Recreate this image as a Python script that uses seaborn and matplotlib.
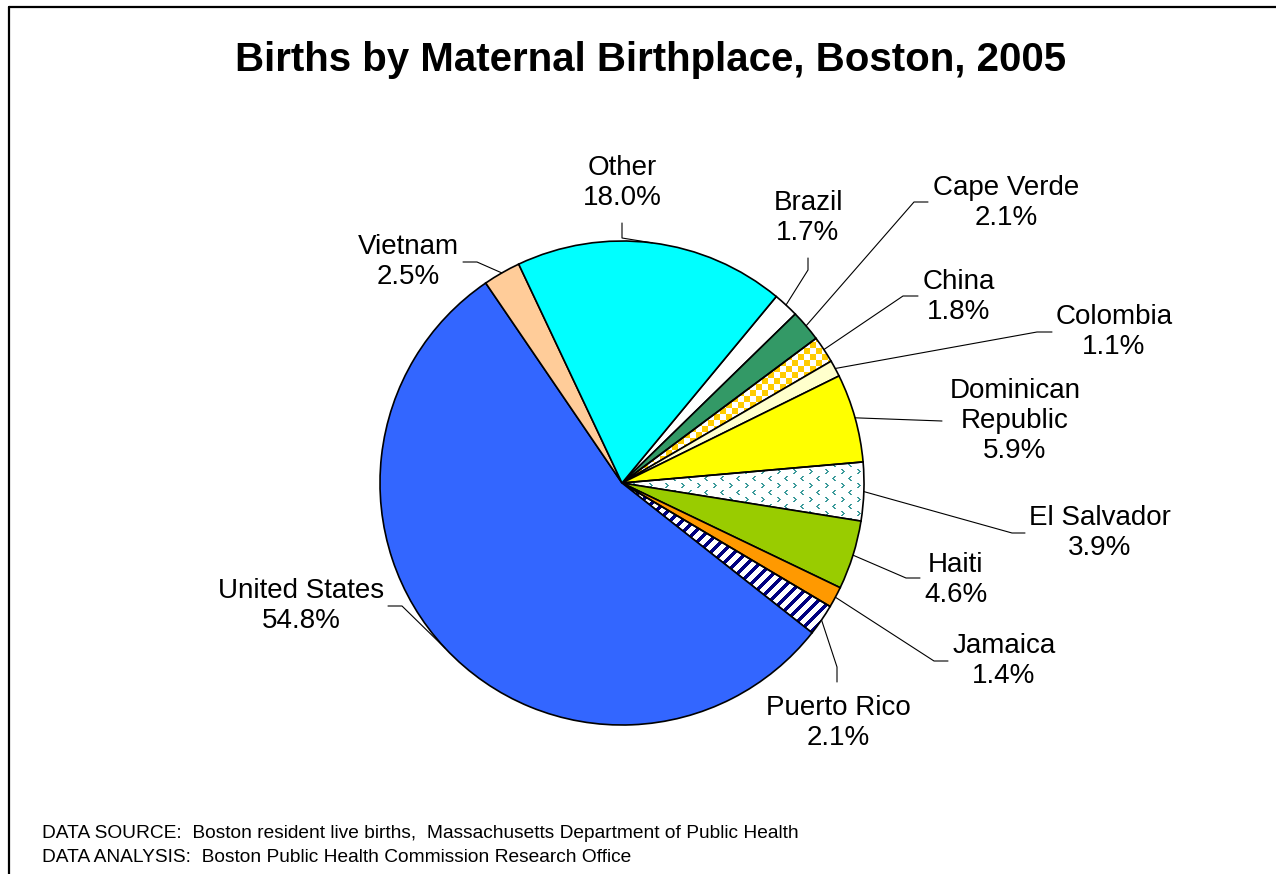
import numpy as np
import matplotlib
matplotlib.use("Agg")
from matplotlib import pyplot as plt
from matplotlib.lines import Line2D
import seaborn as sns

# data (clockwise from Brazil)
countries = ['Brazil', 'Cape Verde', 'China', 'Colombia', 'Dominican\nRepublic',
             'El Salvador', 'Haiti', 'Jamaica', 'Puerto Rico', 'United States',
             'Vietnam', 'Other']
shares = [1.7, 2.1, 1.8, 1.1, 5.9, 3.9, 4.6, 1.4, 2.1, 54.8, 2.5, 18.0]
colors = ['#FFFFFF', '#339966', 'none', '#FFFFCC', '#FFFF00', 'none',
          '#99CC00', '#FF9900', 'none', '#3366FF', '#FFCC99', '#00FFFF']

sns.set_theme(style="white")
plt.rcParams['font.family'] = ['Liberation Sans', 'DejaVu Sans']
plt.rcParams['text.color'] = 'black'

W, H = 1276, 874
CX, CY, R = 622, 483, 242   # pie centre and radius in pixels


def px(x, y):
    # pixel position -> data units (1 unit = pie radius)
    return (x - CX) / R, (CY - y) / R


fig = plt.figure(figsize=(W / 100, H / 100), dpi=100)
ax = fig.add_axes([0, 0, 1, 1])
ext = (-CX / R, (W - CX) / R, -(H - CY) / R, CY / R)

wedges, _ = ax.pie(shares, colors=colors, startangle=50.4, counterclock=False,
                   radius=1, center=(0, 0),
                   wedgeprops=dict(edgecolor='black', linewidth=1.2, zorder=3))

#### fill patterns for three slices ####
yy, xx = np.mgrid[0:H, 0:W]


def pattern_img(mask, fg, bg=(255, 255, 255)):
    img = np.empty((H, W, 3), dtype=np.uint8)
    img[:] = bg
    img[mask] = fg
    return img


checker = ((xx // 6 + yy // 6) % 2 == 0)
stripes = ((xx + yy) % 12) < 5
# small "<" and ">" marks, alternating rows
tile = np.zeros((14, 16), dtype=bool)
lt = [(0, 2), (1, 1), (2, 0), (3, 1), (4, 2), (0, 3), (1, 2), (2, 1), (3, 2), (4, 3)]
for r, c in lt:
    tile[r, c] = True
    tile[r + 7, 12 - c] = True
chevrons = tile[yy % 14, xx % 16]

patterns = {2: pattern_img(checker, (255, 204, 0)),
            5: pattern_img(chevrons, (60, 155, 155)),
            8: pattern_img(stripes, (0, 0, 128))}
for i, img in patterns.items():
    im = ax.imshow(img, extent=ext, origin='upper', interpolation='bilinear', zorder=2)
    im.set_clip_path(wedges[i])

ax.set_xlim(ext[0], ext[1])
ax.set_ylim(ext[2], ext[3])
ax.set_aspect('equal')
ax.axis('off')

#### labels and leader lines ####
label_pos = [(808, 218), (1006, 203), (959, 297), (1114, 332), (1015, 421),
             (1100, 533), (956, 580), (1004, 661), (838, 723), (301, 606),
             (408, 262), (622, 183)]
leader_pts = [[(808, 270), (808, 258)], [(914, 202), (928, 202)],
              [(903, 296), (918, 296)], [(1037, 332), (1052, 332)],
              [(942, 421)], [(1012, 533), (1025, 533)],
              [(906, 578), (920, 578)], [(934, 661), (948, 661)],
              [(837, 667), (837, 682)], [(402, 606), (388, 606)],
              [(477, 262), (463, 262)], [(622, 238), (622, 223)]]

for w, name, val, pos, pts in zip(wedges, countries, shares, label_pos, leader_pts):
    ang = np.deg2rad((w.theta1 + w.theta2) / 2)
    xs = [np.cos(ang)] + [px(*p)[0] for p in pts]
    ys = [np.sin(ang)] + [px(*p)[1] for p in pts]
    ax.add_line(Line2D(xs, ys, color='black', lw=0.8, zorder=4))
    tx, ty = px(*pos)
    ax.text(tx, ty, f"{name}\n{val:.1f}%", ha='center', va='center',
            multialignment='center', fontsize=20, linespacing=1.2)

fig.text(651 / W, 1 - 60 / H, "Births by Maternal Birthplace, Boston, 2005",
         ha='center', va='center', fontsize=29, fontweight='bold')
fig.text(42 / W, 1 - 833 / H,
         "DATA SOURCE:  Boston resident live births,  Massachusetts Department of Public Health",
         ha='left', va='center', fontsize=13.8)
fig.text(42 / W, 1 - 857 / H,
         "DATA ANALYSIS:  Boston Public Health Commission Research Office",
         ha='left', va='center', fontsize=13.8)

# frame on the left and top edges
fig.add_artist(Line2D([9 / W, 9 / W], [0, 1 - 7 / H], color='black', lw=1.6))
fig.add_artist(Line2D([9 / W, 1], [1 - 7 / H, 1 - 7 / H], color='black', lw=1.6))

plt.savefig('out.png', dpi=100)
